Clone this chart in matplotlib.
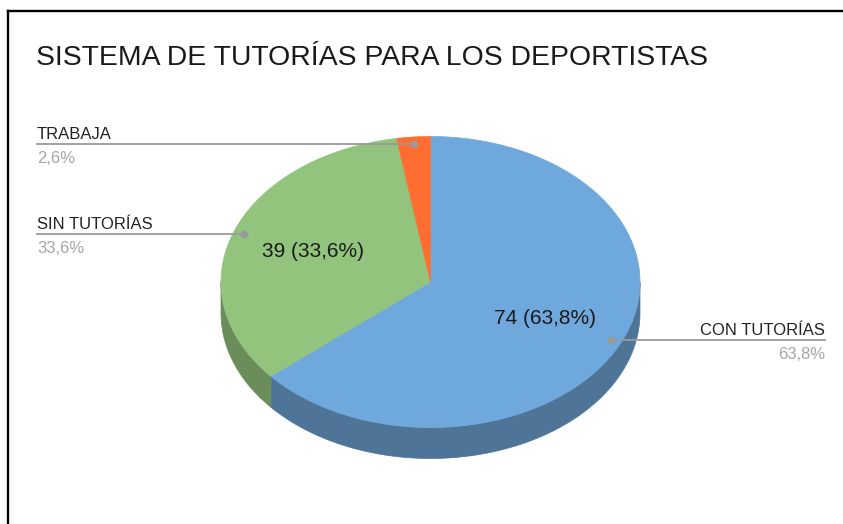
import numpy as np
import matplotlib.pyplot as plt
from matplotlib.patches import Polygon

plt.rcParams['font.family'] = ['Liberation Sans', 'DejaVu Sans']

# data
title = "SISTEMA DE TUTORÍAS PARA LOS DEPORTISTAS"
labels = ["CON TUTORÍAS", "SIN TUTORÍAS", "TRABAJA"]
counts = [74, 39, 3]
top_colors = ["#6fa8dc", "#93c47d", "#ff6d31"]
side_colors = ["#4e7598", "#6a8d59", "#b34c22"]

# pie geometry in pixels (3D tilted ellipse)
CX, CY = 430.5, 282
RX, RY = 209.5, 145.5
DEPTH = 31


def pt(t, r=1.0):
    # t: degrees clockwise from 12 o'clock
    rad = np.radians(t)
    return CX + RX * r * np.sin(rad), CY - RY * r * np.cos(rad)


def fmt_pct(v):
    return f"{v:.1f}".replace(".", ",") + "%"


fig = plt.figure(figsize=(8.43, 5.24), dpi=100)
ax = fig.add_axes([0, 0, 1, 1])
ax.set_xlim(0, 843)
ax.set_ylim(524, 0)
ax.axis("off")

total = sum(counts)
shares = [c / total * 100 for c in counts]
bounds = np.concatenate([[0], np.cumsum(counts) / total * 360])

# sides (front half only)
for i in range(len(counts)):
    a0, a1 = max(bounds[i], 90), min(bounds[i + 1], 270)
    if a1 <= a0:
        continue
    t = np.linspace(a0, a1, 120)
    xs, ys = pt(t)
    poly = np.column_stack([np.r_[xs, xs[::-1]], np.r_[ys, ys[::-1] + DEPTH]])
    ax.add_patch(Polygon(poly, closed=True, fc=side_colors[i], ec=side_colors[i],
                         lw=0.5, zorder=1))

# top faces
for i in range(len(counts)):
    t = np.linspace(bounds[i], bounds[i + 1], 200)
    xs, ys = pt(t)
    poly = np.column_stack([np.r_[CX, xs], np.r_[CY, ys]])
    ax.add_patch(Polygon(poly, closed=True, fc=top_colors[i], ec=top_colors[i],
                         lw=0.5, zorder=2))

# in-slice value labels (skip tiny slice)
for i in range(len(counts)):
    if shares[i] < 5:
        continue
    mid = (bounds[i] + bounds[i + 1]) / 2
    x, y = pt(mid, 0.6)
    ax.text(x, y, f"{counts[i]} ({fmt_pct(shares[i])})", fontsize=15,
            color="#1a1a1a", ha="center", va="center", zorder=4)

# leader lines with name + percentage
for i in range(len(counts)):
    mid = (bounds[i] + bounds[i + 1]) / 2
    x, y = pt(mid, 0.95)
    if x < CX:
        xe, ha = 37, "left"
    else:
        xe, ha = 825, "right"
    ax.plot([x, xe], [y, y], color="#9a9a9a", lw=1.3, zorder=3)
    ax.plot(x, y, "o", color="#9a9a9a", ms=4.5, zorder=3)
    ax.text(xe, y - 5, labels[i], fontsize=12, color="#222222", ha=ha,
            va="baseline", zorder=4)
    ax.text(xe, y + 19, fmt_pct(shares[i]), fontsize=12, color="#a6a6a6",
            ha=ha, va="baseline", zorder=4)

ax.text(36, 65, title, fontsize=20.4, color="#1a1a1a", ha="left", va="baseline")

# frame lines (top and left edge of the cropped chart box)
ax.plot([8, 843], [11, 11], color="black", lw=1.7, solid_capstyle="projecting",
        clip_on=False)
ax.plot([8, 8], [11, 524], color="black", lw=1.7, solid_capstyle="projecting",
        clip_on=False)

fig.savefig("out.png", dpi=100)
